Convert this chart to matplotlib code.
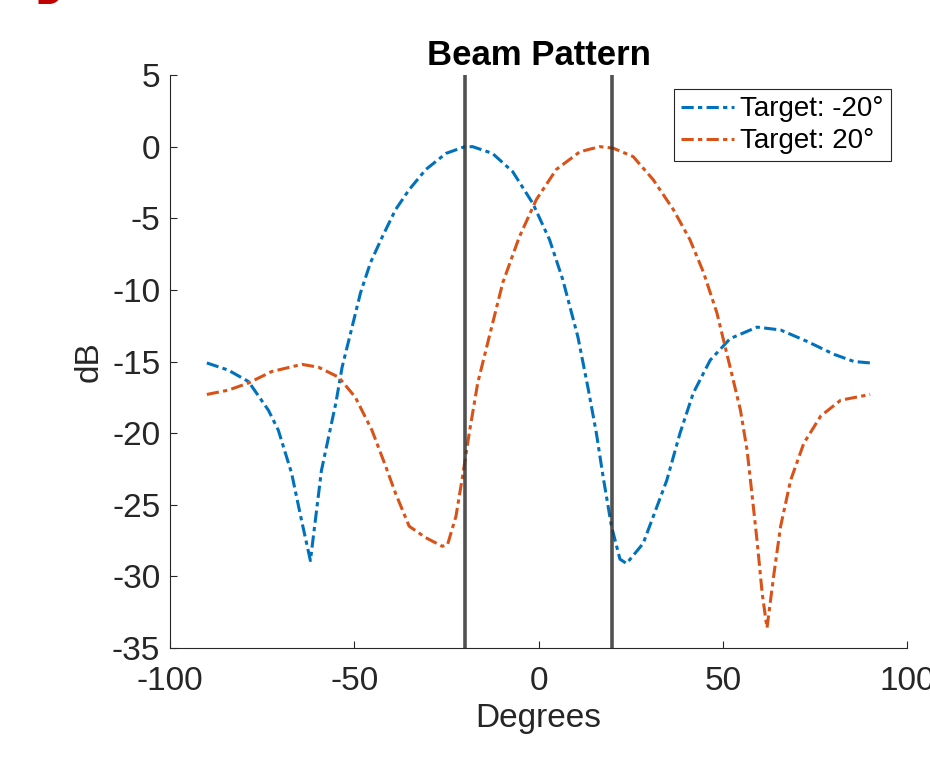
import matplotlib
matplotlib.use("Agg")
import matplotlib.pyplot as plt

plt.rcParams['font.family'] = ['Liberation Sans', 'DejaVu Sans']
plt.rcParams['axes.unicode_minus'] = False

# Data
blue_x = [-90, -84.2, -78.7, -73.3, -70.6, -67, -64.3, -61.9, -58.9, -55, -53.3, -50.6,
          -48.3, -45.6, -42.4, -38.8, -35.1, -30.6, -25.1, -20.2, -17.9, -12.5, -7.0,
          -1.55, 3.0, 6.6, 10.7, 13.4, 15.7, 17.5, 19.8, 22.1, 23.9, 28.4, 34.8, 38.4,
          42, 46.6, 52, 59.3, 65.7, 72.9, 80.2, 85.6, 90]
blue_y = [-15.1, -15.6, -16.4, -18.4, -19.8, -22.8, -26.1, -28.9, -22.6, -17.9, -15.4, -12.6,
          -10.2, -8.1, -6.3, -4.4, -3.0, -1.6, -0.47, -0.02, 0.0, -0.47, -1.75,
          -3.96, -6.5, -9.3, -13.3, -16.8, -20.0, -23.0, -26.5, -28.8, -29.1, -27.7, -23.3, -20.0,
          -17.2, -14.9, -13.4, -12.6, -12.8, -13.6, -14.5, -15.0, -15.1]

orange_x = [-90, -84.2, -78.7, -72.4, -64.2, -59.7, -54.2, -49.7, -45.2, -41.5, -38.8, -35.1,
            -30.6, -26.1, -24.7, -22.4, -20.6, -18.8, -16.5, -13.4, -9.7, -5.2, -0.6, 4.8,
            11.2, 16.6, 20.2, 25.7, 31.1, 36.6, 41.1, 44.8, 48.4, 52, 54.8, 56.6, 57.9,
            59.3, 60.7, 62.0, 63.9, 65.7, 68.4, 72, 76.6, 82, 90]
orange_y = [-17.3, -17.0, -16.5, -15.7, -15.2, -15.4, -16.1, -17.5, -19.8, -22.3, -24.2, -26.5,
            -27.3, -27.9, -27.8, -25.8, -23.0, -20.0, -16.5, -13.3, -9.5, -6.3, -3.7, -1.6,
            -0.36, 0.0, -0.1, -0.7, -2.3, -4.4, -6.5, -8.8, -11.6, -15.4, -18.4, -21.2, -24.2,
            -27.5, -31.2, -33.6, -29.8, -26.5, -23.3, -20.7, -18.8, -17.7, -17.3]

targets = [-20, 20]
labels = ['Target: -20°', 'Target: 20°']
x_ticks = [-100, -50, 0, 50, 100]
y_ticks = [-35, -30, -25, -20, -15, -10, -5, 0, 5]

fig = plt.figure(figsize=(9.3, 7.57), dpi=100)
ax = fig.add_axes([0.1828, 0.144, 0.7925, 0.7569])

dash = (0, (4, 1.4, 1.4, 1.4))
ax.plot(blue_x, blue_y, color='#0072BD', lw=2.2, linestyle=dash, label=labels[0])
ax.plot(orange_x, orange_y, color='#D95319', lw=2.2, linestyle=dash, label=labels[1])
for t in targets:
    ax.axvline(t, color='#333333', alpha=0.85, lw=2.6)

ax.set_xlim(-100, 100)
ax.set_ylim(-35, 5)
ax.set_xticks(x_ticks)
ax.set_yticks(y_ticks)
for s in ['top', 'right']:
    ax.spines[s].set_visible(False)
for s in ['left', 'bottom']:
    ax.spines[s].set_color('#262626')
    ax.spines[s].set_linewidth(0.8)
ax.tick_params(direction='in', length=5, width=0.8, color='#262626',
               labelsize=24, labelcolor='#262626')
ax.tick_params(axis='x', pad=13)
ax.tick_params(axis='y', pad=7)

ax.set_title('Beam Pattern', fontsize=25, fontweight='bold', pad=7)
ax.set_xlabel('Degrees', fontsize=24, color='#262626', labelpad=4)
ax.set_ylabel('dB', fontsize=24, color='#262626', labelpad=5)

leg = ax.legend(loc='upper right', bbox_to_anchor=(0.978, 0.975), fontsize=20,
                fancybox=False, framealpha=1, edgecolor='#262626', borderpad=0.25,
                handlelength=1.9, handletextpad=0.25, labelspacing=0.22, borderaxespad=0)
leg.get_frame().set_linewidth(0.8)

fig.text(0.038, 0.995, 'D', color='#C00000', fontsize=27, fontweight='bold',
         va='baseline', ha='left')

fig.savefig('out.png', dpi=100)
